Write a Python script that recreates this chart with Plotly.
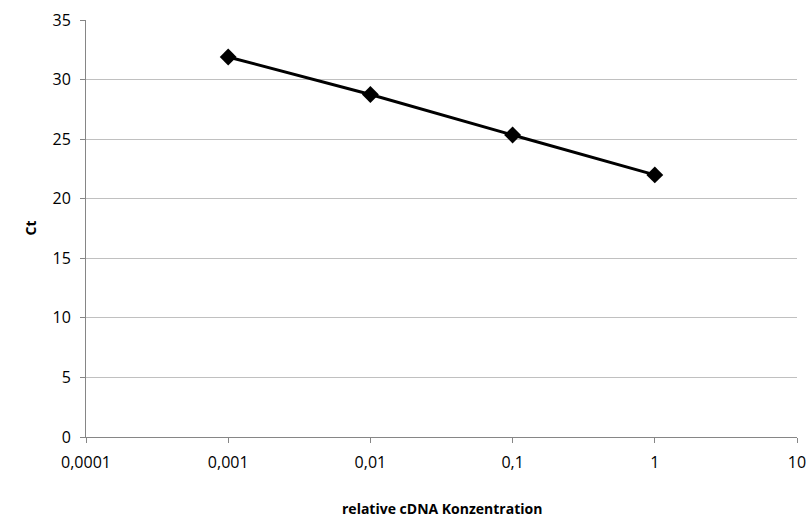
import plotly.graph_objects as go

conc = [0.001, 0.01, 0.1, 1]
ct = [31.9, 28.75, 25.35, 22.0]
x_tickvals = [0.0001, 0.001, 0.01, 0.1, 1, 10]
x_ticktext = ["0,0001", "0,001", "0,01", "0,1", "1", "10"]
y_tickvals = [0, 5, 10, 15, 20, 25, 30, 35]

fig = go.Figure(go.Scatter(
    x=conc, y=ct, mode="lines+markers",
    line=dict(color="black", width=3),
    marker=dict(symbol="diamond", size=13, color="black"),
    cliponaxis=False,
))

fig.update_layout(
    width=810, height=518,
    margin=dict(l=86, r=13, t=20, b=81),
    plot_bgcolor="white", paper_bgcolor="white",
    font=dict(family="Open Sans, Lato, sans-serif", size=15, color="black"),
    showlegend=False,
    xaxis=dict(
        type="log", range=[-4, 1], automargin=False,
        tickvals=x_tickvals, ticktext=x_ticktext,
        showgrid=False, showline=True, linecolor="#868686", linewidth=1,
        ticks="outside", ticklen=5, tickcolor="#868686",
        tickfont=dict(size=16), ticklabeloverflow="allow",
        ticklabelstandoff=6,
        zeroline=False,
    ),
    yaxis=dict(
        range=[0, 35], tickvals=y_tickvals, automargin=False,
        showgrid=True, gridcolor="#c0c0c0", gridwidth=1,
        showline=True, linecolor="#868686", linewidth=1,
        ticks="outside", ticklen=5, tickcolor="#868686",
        tickfont=dict(size=16), ticklabelstandoff=6,
        zeroline=False,
    ),
    annotations=[
        dict(text="<b>relative cDNA Konzentration</b>", xref="paper", yref="paper",
             x=0.5, y=0, yshift=-71, xanchor="center", yanchor="middle",
             showarrow=False, font=dict(size=14)),
        dict(text="<b>Ct</b>", xref="paper", yref="paper",
             x=0, y=0.5, xshift=-56, xanchor="center", yanchor="middle",
             textangle=-90, showarrow=False, font=dict(size=14)),
    ],
)

fig.write_html(
    "out.html",
    config={"displayModeBar": False},
    post_script="document.body.style.margin='0';document.body.style.overflow='hidden';",
)
